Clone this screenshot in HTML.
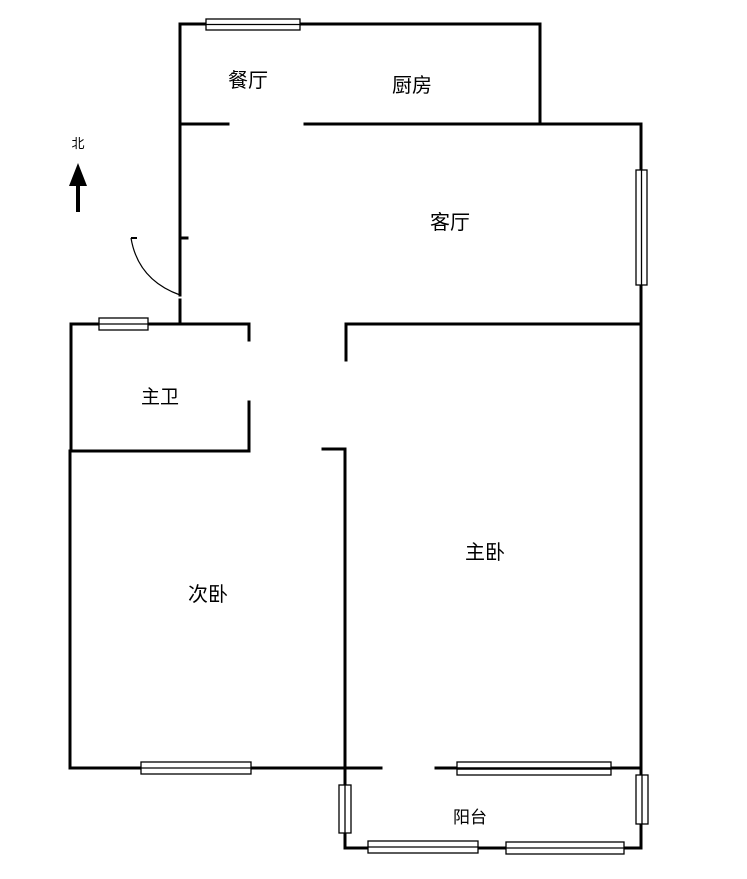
<!DOCTYPE html>
<html><head><meta charset="utf-8"><style>
html,body{margin:0;padding:0;background:#fff;}
svg{display:block}
text{font-family:"Liberation Sans","Noto Sans CJK SC",sans-serif;fill:#000;text-anchor:middle}
</style></head><body>
<svg width="747" height="879" viewBox="0 0 747 879">
<g stroke="#000" stroke-width="3" fill="none" stroke-linecap="square">
<path d="M180 24H540V124"/>
<path d="M305 124H641V848H345V768"/>
<path d="M181 124H228"/>
<path d="M180 24V295"/>
<path d="M180 238H187"/>
<path d="M180 300V324"/>
<path d="M71 324H249V340"/>
<path d="M249 402V451H70V768H381"/>
<path d="M71 324V451"/>
<path d="M346 360V324H641"/>
<path d="M323 449H345V768"/>
<path d="M436 768H641"/>
</g>
<path d="M131 238 Q138 280 180 295" stroke="#000" stroke-width="1.2" fill="none"/>
<path d="M131 238H137" stroke="#000" stroke-width="2"/>
<g fill="#fff" stroke="#000" stroke-width="1.3">
<rect x="206" y="19" width="94" height="11"/><line x1="206" y1="24.5" x2="300" y2="24.5"/>
<rect x="636" y="170" width="11" height="115"/><line x1="641.5" y1="170" x2="641.5" y2="285"/>
<rect x="99" y="318" width="49" height="12"/><line x1="99" y1="324" x2="148" y2="324"/>
<rect x="141" y="762" width="110" height="12"/><line x1="141" y1="768" x2="251" y2="768"/>
<rect x="457" y="762" width="154" height="13"/><line x1="457" y1="768.5" x2="611" y2="768.5" stroke-width="2.5"/>
<rect x="339" y="785" width="12" height="48"/><line x1="345" y1="785" x2="345" y2="833"/>
<rect x="636" y="775" width="12" height="49"/><line x1="642" y1="775" x2="642" y2="824"/>
<rect x="368" y="841" width="110" height="12"/><line x1="368" y1="847" x2="478" y2="847"/>
<rect x="506" y="842" width="118" height="12"/><line x1="506" y1="848" x2="624" y2="848"/>
</g>
<path d="M78 212V180" stroke="#000" stroke-width="4"/>
<polygon points="78,163 69,186 87,186" fill="#000"/>
<text x="78" y="148" font-size="13">北</text>
<text x="248" y="87" font-size="20">餐厅</text>
<text x="412" y="92" font-size="20">厨房</text>
<text x="450" y="229" font-size="20">客厅</text>
<text x="160" y="403" font-size="19">主卫</text>
<text x="485" y="559" font-size="20">主卧</text>
<text x="208" y="601" font-size="20">次卧</text>
<text x="470" y="823" font-size="17">阳台</text>
</svg>
</body></html>
